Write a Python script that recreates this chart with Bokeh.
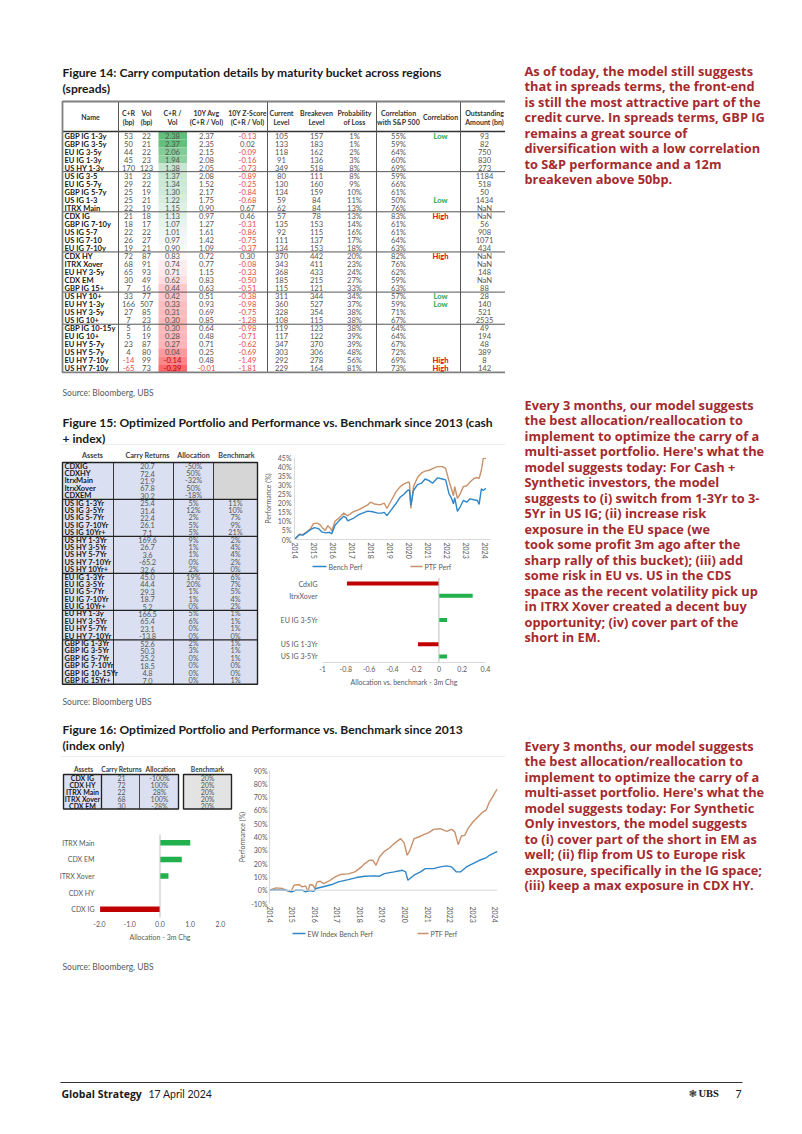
import math
from bokeh.plotting import figure
from bokeh.layouts import row, column
from bokeh.models import (Range1d, FactorRange, Span, FixedTicker,
                          NumeralTickFormatter, PrintfTickFormatter)
from bokeh.core.properties import value
from bokeh.embed import file_html
from bokeh.resources import INLINE

FONT = "Lato"
TFONT = "Open Sans"
RED_TXT = "#A52A2E"
GRAY = "#555555"
BLUE = "#2F86C8"
ORANGE = "#C8916A"

# ---------------- Figure 14 data ----------------
f14_names = ["GBP IG 1-3y", "GBP IG 3-5y", "EU IG 3-5y", "EU IG 1-3y", "US HY 1-3y",
             "US IG 3-5", "EU IG 5-7y", "GBP IG 5-7y", "US IG 1-3", "ITRX Main",
             "CDX IG", "GBP IG 7-10y", "US IG 5-7", "US IG 7-10", "EU IG 7-10y",
             "CDX HY", "ITRX Xover", "EU HY 3-5y", "CDX EM", "GBP IG 15+",
             "US HY 10+", "EU HY 1-3y", "US HY 3-5y", "US IG 10+",
             "GBP IG 10-15y", "EU IG 10+", "EU HY 5-7y", "US HY 5-7y", "EU HY 7-10y", "US HY 7-10y"]
f14_cr = [53, 50, 44, 45, 170, 31, 29, 25, 25, 22, 21, 18, 22, 26, 19, 72, 68, 65, 30, 7,
          33, 166, 27, 7, 5, 5, 23, 4, -14, -65]
f14_vol = [22, 21, 22, 23, 123, 23, 22, 19, 21, 19, 18, 17, 22, 27, 21, 87, 91, 93, 49, 16,
           77, 507, 85, 23, 16, 19, 87, 80, 99, 73]
f14_crvol = [2.38, 2.37, 2.06, 1.94, 1.38, 1.37, 1.34, 1.30, 1.22, 1.15, 1.13, 1.07, 1.01, 0.97, 0.90,
             0.83, 0.74, 0.71, 0.62, 0.44, 0.42, 0.33, 0.31, 0.30, 0.30, 0.28, 0.27, 0.04, -0.14, -0.39]
f14_avg = [2.37, 2.35, 2.15, 2.08, 2.05, 2.08, 1.52, 2.17, 1.75, 0.90, 0.97, 1.27, 1.61, 1.42, 1.09,
           0.72, 0.77, 1.15, 0.83, 0.63, 0.51, 0.93, 0.69, 0.85, 0.64, 0.48, 0.71, 0.25, 0.48, -0.01]
f14_z = [-0.13, 0.02, -0.09, -0.16, -0.73, -0.89, -0.25, -0.84, -0.68, 0.67, 0.46, -0.31, -0.86, -0.75, -0.37,
         0.30, -0.08, -0.33, -0.50, -0.51, -0.38, -0.98, -0.75, -1.28, -0.98, -0.71, -0.62, -0.69, -1.49, -1.81]
f14_cur = [105, 133, 118, 91, 349, 80, 130, 134, 59, 62, 57, 135, 92, 111, 134, 370, 343, 368, 185, 115,
           311, 360, 328, 108, 119, 117, 347, 303, 292, 229]
f14_be = [157, 183, 162, 136, 518, 111, 160, 159, 84, 84, 78, 153, 115, 137, 153, 442, 411, 433, 215, 121,
          344, 527, 354, 115, 123, 122, 370, 306, 278, 164]
f14_prob = [1, 1, 2, 3, 8, 8, 9, 10, 11, 13, 13, 14, 16, 17, 18, 20, 23, 24, 27, 33,
            34, 37, 38, 38, 38, 39, 39, 48, 56, 81]
f14_corr = [55, 59, 64, 60, 69, 59, 66, 61, 50, 76, 83, 61, 61, 64, 63, 82, 76, 62, 59, 63,
            57, 59, 71, 67, 64, 64, 67, 72, 69, 73]
f14_corr_lbl = ["Low", "", "", "", "", "", "", "", "Low", "", "High", "", "", "", "", "High", "", "", "", "",
                "Low", "Low", "", "", "", "", "", "", "High", "High"]
f14_out = [93, 82, 750, 830, 273, 1184, 518, 50, 1434, None, None, 56, 908, 1071, 434, None, None, 148, None, 88,
           28, 140, 521, 2535, 49, 194, 48, 389, 8, 142]
f14_groups = [5, 5, 5, 5, 4, 6]
f14_headers = [("Name",), ("C+R", "(bp)"), ("Vol", "(bp)"), ("C+R /", "Vol"), ("10Y Avg", "(C+R / Vol)"),
               ("10Y Z-Score", "(C+R / Vol)"), ("Current", "Level"), ("Breakeven", "Level"),
               ("Probability", "of Loss"), ("Correlation", "with S&P 500"), ("Correlation",),
               ("Outstanding", "Amount (bn)")]

# ---------------- Figure 15 data ----------------
f15_assets = ["CDXIG", "CDXHY", "ItrxMain", "ItrxXover", "CDXEM",
              "US IG 1-3Yr", "US IG 3-5Yr", "US IG 5-7Yr", "US IG 7-10Yr", "US IG 10Yr+",
              "US HY 1-3Yr", "US HY 3-5Yr", "US HY 5-7Yr", "US HY 7-10Yr", "US HY 10Yr+",
              "EU IG 1-3Yr", "EU IG 3-5Yr", "EU IG 5-7Yr", "EU IG 7-10Yr", "EU IG 10Yr+",
              "EU HY 1-3y", "EU HY 3-5Yr", "EU HY 5-7Yr", "EU HY 7-10Yr",
              "GBP IG 1-3Yr", "GBP IG 3-5Yr", "GBP IG 5-7Yr", "GBP IG 7-10Yr", "GBP IG 10-15Yr", "GBP IG 15Yr+"]
f15_carry = [20.7, 72.4, 21.9, 67.8, 30.2, 25.4, 31.4, 22.4, 26.1, 7.1, 169.6, 26.7, 3.6, -65.2, 32.6,
             45.0, 44.4, 29.3, 18.7, 5.2, 166.5, 65.4, 23.1, -13.8, 52.6, 50.3, 25.2, 18.5, 4.8, 7.0]
f15_alloc = [-50, 50, -32, 50, -18, 5, 12, 2, 5, 5, 9, 1, 1, 0, 2, 19, 20, 1, 1, 0, 5, 6, 0, 0,
             2, 3, 0, 0, 0, 0]
f15_bench = [None, None, None, None, None, 11, 10, 7, 9, 21, 2, 4, 4, 2, 0, 6, 7, 5, 4, 2, 1, 1, 1, 0,
             1, 1, 1, 0, 0, 1]
f15_groups = [5, 5, 5, 5, 4, 6]

f15_bench_x = [2014.0, 2014.26, 2014.44, 2014.61, 2014.84, 2015.05, 2015.26, 2015.43, 2015.66, 2015.84, 2015.96,
               2016.13, 2016.36, 2016.59, 2016.71, 2016.80, 2017.06, 2017.41, 2017.85, 2018.11, 2018.37, 2018.58,
               2018.72, 2018.86, 2019.07, 2019.33, 2019.56, 2019.77, 2019.94, 2020.05, 2020.12, 2020.26, 2020.47,
               2020.68, 2020.87, 2021.08, 2021.26, 2021.52, 2021.78, 2021.95, 2022.13, 2022.25, 2022.36, 2022.43,
               2022.57, 2022.71, 2022.88, 2023.06, 2023.23, 2023.44, 2023.62, 2023.71, 2023.83, 2023.93, 2024.07]
f15_bench_y = [0, 2.7, 2.4, 3.6, 5.4, 6.5, 6.0, 4.2, 3.6, 4.0, 3.1,
               7.8, 10.5, 12.7, 12.0, 10.2, 11.4, 13.8, 15.6, 15.2, 14.5, 14.5,
               14.9, 13.1, 16.0, 19.6, 23.2, 25.0, 26.9, 27.2, 18.7, 26.9, 30.1,
               30.9, 33.2, 32.3, 30.9, 33.8, 33.2, 32.7, 25.0, 22.9, 19.6, 22.9,
               15.4, 17.8, 21.4, 20.5, 22.3, 21.8, 21.4, 19.2, 27.8, 26.9, 28.1]
f15_ptf_x = [2014.0, 2014.26, 2014.44, 2014.61, 2014.84, 2015.0, 2015.2, 2015.35, 2015.5, 2015.62, 2015.75,
             2015.9, 2015.96, 2016.13, 2016.36, 2016.59, 2016.8, 2017.06, 2017.41, 2017.85, 2018.0, 2018.2,
             2018.5, 2018.72, 2018.86, 2019.07, 2019.33, 2019.56, 2019.77, 2020.0, 2020.05, 2020.12, 2020.26,
             2020.47, 2020.68, 2020.87, 2021.08, 2021.3, 2021.52, 2021.78, 2021.95, 2022.13, 2022.25, 2022.36,
             2022.43, 2022.57, 2022.71, 2022.88, 2023.06, 2023.23, 2023.44, 2023.62, 2023.71, 2023.83, 2023.93,
             2024.07]
f15_ptf_y = [0, 2.9, 2.7, 4.0, 5.8, 8.7, 9.0, 8.0, 6.0, 5.0, 7.6,
             6.0, 4.5, 10.0, 12.0, 14.5, 13.0, 15.0, 16.5, 19.0, 20.5, 19.5,
             19.0, 20.0, 17.0, 21.0, 26.0, 29.0, 30.5, 31.6, 31.0, 17.0, 29.0,
             34.0, 36.5, 37.5, 38.0, 39.0, 40.0, 40.0, 39.0, 32.0, 28.0, 24.0,
             29.0, 22.5, 25.0, 29.0, 29.5, 31.5, 33.5, 34.0, 33.5, 38.0, 44.5,
             44.5]
f15_years = [2014, 2015, 2016, 2017, 2018, 2019, 2020, 2021, 2022, 2023, 2024]
f15_yticks = [0, 5, 10, 15, 20, 25, 30, 35, 40, 45]
f15_legend = ["Bench Perf", "PTF Perf"]

f15_chg_cats = ["CdxIG", "ItrxXover", " ", "EU IG 3-5Yr", "  ", "US IG 1-3Yr", "US IG 3-5Yr"]
f15_chg_vals = [-0.79, 0.29, 0.0, 0.07, 0.0, -0.18, 0.07]
f15_chg_ticks = [-1, -0.8, -0.6, -0.4, -0.2, 0, 0.2, 0.4]

# ---------------- Figure 16 data ----------------
f16_assets = ["CDX IG", "CDX HY", "ITRX Main", "ITRX Xover", "CDX EM"]
f16_carry = [21, 72, 22, 68, 30]
f16_alloc = [-100, 100, 28, 100, -28]
f16_bench = [20, 20, 20, 20, 20]

f16_chg_cats = ["ITRX Main", "CDX EM", "ITRX Xover", "CDX HY", "CDX IG"]
f16_chg_vals = [1.0, 0.72, 0.28, 0.0, -1.98]
f16_chg_ticks = [-2, -1, 0, 1, 2]

f16_bench_x = [2014.0, 2014.29, 2014.73, 2014.99, 2015.16, 2015.45, 2015.60, 2015.74, 2015.96, 2016.06, 2016.47,
               2016.76, 2017.05, 2017.49, 2017.85, 2018.22, 2018.65, 2018.87, 2019.09, 2019.52, 2019.89, 2020.03,
               2020.13, 2020.40, 2020.69, 2020.90, 2021.27, 2021.56, 2021.85, 2022.07, 2022.28, 2022.46, 2022.72,
               2023.01, 2023.30, 2023.59, 2023.74, 2023.96, 2024.10]
f16_bench_y = [0, 0.25, 0, -1.25, 0, 0, -1.25, -0.25, -0.75, 1.25, 3.0,
               4.25, 6.25, 8.0, 9.5, 10.5, 10.75, 10.5, 12.5, 13.75, 15.0, 13.75,
               7.5, 11.25, 13.75, 16.25, 16.25, 17.5, 18.25, 17.5, 13.75, 13.75, 17.5,
               20.0, 22.5, 24.25, 26.25, 28.0, 29.25]
f16_ptf_x = [2014.0, 2014.29, 2014.58, 2014.80, 2014.94, 2015.09, 2015.31, 2015.45, 2015.60, 2015.70, 2015.79,
             2015.92, 2016.01, 2016.11, 2016.25, 2016.40, 2016.62, 2016.91, 2017.13, 2017.49, 2017.78, 2017.92,
             2018.07, 2018.22, 2018.43, 2018.58, 2018.72, 2018.87, 2019.09, 2019.31, 2019.52, 2019.81, 2019.96,
             2020.10, 2020.22, 2020.40, 2020.61, 2020.83, 2021.05, 2021.27, 2021.56, 2021.85, 2022.07, 2022.21,
             2022.36, 2022.50, 2022.65, 2022.79, 2023.01, 2023.23, 2023.45, 2023.59, 2023.74, 2023.88, 2024.0,
             2024.10]
f16_ptf_y = [0, 1.75, 1.25, -0.5, -1.25, 3.75, 4.25, 2.5, 3.25, -1.25, 4.25,
             3.75, 1.25, 6.25, 6.75, 5.0, 6.75, 10.0, 11.75, 12.25, 13.75, 15.5,
             17.5, 20.0, 22.5, 22.5, 18.75, 25.0, 29.25, 31.75, 35.0, 38.75, 35.75,
             26.25, 30.0, 38.75, 40.0, 41.75, 43.25, 45.75, 46.25, 44.25, 45.75, 43.75,
             34.25, 40.75, 41.25, 46.25, 51.25, 55.0, 58.75, 60.0, 66.25, 70.0, 73.75,
             76.25]
f16_years = [2014, 2015, 2016, 2017, 2018, 2019, 2020, 2021, 2022, 2023, 2024]
f16_yticks = [-10, 0, 10, 20, 30, 40, 50, 60, 70, 80, 90]
f16_legend = ["EW Index Bench Perf", "PTF Perf"]

# ---------------- side texts ----------------
side1 = ["As of today, the model still suggests", "that in spreads terms, the front-end",
         "is still the most attractive part of the", "credit curve. In spreads terms, GBP IG",
         "remains a great source of", "diversification with a low correlation",
         "to S&P performance and a 12m", "breakeven above 50bp."]
side2 = ["Every 3 months, our model suggests", "the best allocation/reallocation to",
         "implement to optimize the carry of a", "multi-asset portfolio. Here's what the",
         "model suggests today: For Cash +", "Synthetic investors, the model",
         "suggests to (i) switch from 1-3Yr to 3-", "5Yr in US IG; (ii) increase risk",
         "exposure in the EU space (we", "took some profit 3m ago after the",
         "sharp rally of this bucket); (iii) add", "some risk in EU vs. US in the CDS",
         "space as the recent volatility pick up", "in ITRX Xover created a decent buy",
         "opportunity; (iv) cover part of the", "short in EM."]
side3 = ["Every 3 months, our model suggests", "the best allocation/reallocation to",
         "implement to optimize the carry of a", "multi-asset portfolio. Here's what the",
         "model suggests today: For Synthetic", "Only investors, the model suggests",
         "to (i) cover part of the short in EM as", "well; (ii) flip from US to Europe risk",
         "exposure, specifically in the IG space;", "(iii) keep a max exposure in CDX HY."]


# ---------------- helpers ----------------
def canvas(x0, x1, y0, y1):
    p = figure(width=x1 - x0, height=y1 - y0, x_range=Range1d(x0, x1), y_range=Range1d(y1, y0),
               output_backend="svg", toolbar_location=None, min_border=0,
               x_axis_location=None, y_axis_location=None)
    p.min_border_left = p.min_border_right = p.min_border_top = p.min_border_bottom = 0
    p.outline_line_color = None
    p.xgrid.visible = False
    p.ygrid.visible = False
    return p


def put(p, xs, ys, texts, size=7.6, color=GRAY, style="normal", align="left", font=FONT):
    p.text(x=xs, y=ys, text=texts, text_font=value(font), text_font_size=f"{size}px",
           text_color=color, text_font_style=style, text_align=align, text_baseline="middle")


def hline(p, y, x0, x1, color="#404040", width=1.0):
    p.segment(x0=[x0], y0=[y], x1=[x1], y1=[y], line_color=color, line_width=width)


def vline(p, x, y0, y1, color="#404040", width=1.0):
    p.segment(x0=[x], y0=[y0], x1=[x], y1=[y1], line_color=color, line_width=width)


def excel3(v, vmin, vmid, vmax):
    red = (248, 105, 107); white = (252, 252, 255); green = (99, 190, 123)
    if v >= vmid:
        t = (v - vmid) / (vmax - vmid); c1 = green
    else:
        t = (vmid - v) / (vmid - vmin); c1 = red
    return "#%02x%02x%02x" % tuple(int(round(a + (b - a) * t)) for a, b in zip(white, c1))


def style_axis(ax, size=7):
    ax.major_label_text_font = FONT
    ax.major_label_text_font_size = f"{size}px"
    ax.major_label_text_color = "#595959"
    ax.axis_label_text_font = FONT
    ax.axis_label_text_font_size = f"{size}px"
    ax.axis_label_text_font_style = "normal"
    ax.axis_label_text_color = "#595959"
    ax.major_tick_line_color = None
    ax.minor_tick_line_color = None
    ax.major_tick_out = 0
    ax.major_tick_in = 0
    ax.axis_line_color = "#D9D9D9"
    ax.major_label_standoff = 3
    ax.axis_label_standoff = 3


def chart(w, h, xr, yr, l, r, t, b):
    p = figure(width=w, height=h, x_range=xr, y_range=yr, output_backend="svg", toolbar_location=None,
               min_border_left=l, min_border_right=r, min_border_top=t, min_border_bottom=b)
    p.outline_line_color = None
    p.xgrid.visible = False
    p.ygrid.visible = False
    for ax in p.xaxis + p.yaxis:
        style_axis(ax)
    return p


def legend_canvas(x0, x1, y0, y1, yc, keys, labels):
    p = canvas(x0, x1, y0, y1)
    for (kx0, kx1, col), lab in zip(keys, labels):
        hline(p, yc, kx0, kx1, color=col, width=1.6)
        put(p, [kx1 + 2], [yc], [lab], size=7, color="#595959")
    return p


def stack(*plots):
    # wrap every plot in its own row so that the column does not align their frames
    return column(*[row(p, spacing=0) for p in plots], spacing=0)


TITLE_SIZE = 12.1

# ================= L1 : Figure 14 =================
L1 = canvas(0, 505, 0, 445)
put(L1, [62, 62], [72, 88], ["Figure 14: Carry computation details by maturity bucket across regions", "(spreads)"],
    size=TITLE_SIZE, color="#1a1a1a", style="bold")

TX0, TX1, TTOP, THB = 62, 510, 101, 131
ROW_H = 8.03
ry = [THB + ROW_H * (i + 0.5) for i in range(len(f14_names))]
tbot = THB + ROW_H * len(f14_names)

sv = sorted(f14_crvol)
mid = (sv[len(sv) // 2 - 1] + sv[len(sv) // 2]) / 2
cols = [excel3(v, min(f14_crvol), mid, max(f14_crvol)) for v in f14_crvol]
L1.quad(left=[158] * len(ry), right=[186.5] * len(ry), top=[y - ROW_H / 2 for y in ry],
        bottom=[y + ROW_H / 2 for y in ry], fill_color=cols, line_color=None)

cx = [90, 128, 146, 172, 206, 247, 281, 316, 354, 398, 440, 484]
for x, hd in zip(cx, f14_headers):
    if len(hd) == 1:
        put(L1, [x], [116.5], [hd[0]], size=7, color="#333333", style="bold", align="center")
    else:
        put(L1, [x, x], [112, 121], list(hd), size=7, color="#333333", style="bold", align="center")

NEG = "#E8474C"
put(L1, [64] * len(ry), ry, f14_names, color="#1a1a1a", style="bold")
put(L1, [cx[1]] * len(ry), ry, [str(v) for v in f14_cr], color=[NEG if v < 0 else GRAY for v in f14_cr], align="center")
put(L1, [cx[2]] * len(ry), ry, [str(v) for v in f14_vol], align="center")
put(L1, [cx[3]] * len(ry), ry, [f"{v:.2f}" for v in f14_crvol],
    color=["#C00000" if v < 0 else GRAY for v in f14_crvol], align="center")
put(L1, [cx[4]] * len(ry), ry, [f"{v:.2f}" for v in f14_avg], color=[NEG if v < 0 else GRAY for v in f14_avg], align="center")
put(L1, [cx[5]] * len(ry), ry, [f"{v:.2f}" for v in f14_z], color=[NEG if v < 0 else GRAY for v in f14_z], align="center")
put(L1, [cx[6]] * len(ry), ry, [str(v) for v in f14_cur], align="center")
put(L1, [cx[7]] * len(ry), ry, [str(v) for v in f14_be], align="center")
put(L1, [cx[8]] * len(ry), ry, [f"{v}%" for v in f14_prob], align="center")
put(L1, [cx[9]] * len(ry), ry, [f"{v}%" for v in f14_corr], align="center")
put(L1, [cx[10]] * len(ry), ry, f14_corr_lbl, style="bold",
    color=["#1DA750" if s == "Low" else "#E60000" for s in f14_corr_lbl], align="center")
put(L1, [cx[11]] * len(ry), ry, ["NaN" if v is None else str(v) for v in f14_out], align="center")

acc = 0
for g in f14_groups[:-1]:
    acc += g
    hline(L1, THB + ROW_H * acc, TX0, TX1, color="#555555", width=1)
hline(L1, THB, TX0, TX1, color="#333333", width=1.6)
for x in [118, 267, 376, 460]:
    vline(L1, x, TTOP, tbot, color="#555555", width=1)
L1.quad(left=[TX0], right=[TX1], top=[TTOP], bottom=[tbot], fill_color=None, line_color="#808080", line_width=1.8)

put(L1, [62], [392], ["Source: Bloomberg, UBS"], size=8.5, color="#595959")
put(L1, [62, 62], [422, 438], ["Figure 15: Optimized Portfolio and Performance vs. Benchmark since 2013 (cash",
                               "+ index)"], size=TITLE_SIZE, color="#1a1a1a", style="bold")
hline(L1, 444.5, 60, 505, color="#D9D9D9", width=1)

# ================= Figure 15 table =================
T15 = canvas(0, 260, 445, 690)
R15 = 7.39
t15top = 462
ry15 = [t15top + R15 * (i + 0.5) for i in range(len(f15_assets))]
t15bot = t15top + R15 * len(f15_assets)
T15.quad(left=[62], right=[257], top=[t15top], bottom=[t15bot], fill_color="#DAE0F2", line_color=None)
T15.quad(left=[213], right=[257], top=[t15top], bottom=[t15top + R15 * f15_groups[0]], fill_color="#D6D6D6", line_color=None)
put(T15, [92, 147, 193, 236], [455] * 4, ["Assets", "Carry Returns", "Allocation", "Benchmark"],
    size=7.2, color="#404040", style="bold", align="center")
put(T15, [64] * len(ry15), ry15, f15_assets, size=7.5, color="#1a1a1a", style="bold")
put(T15, [147] * len(ry15), ry15, [f"{v:.1f}" for v in f15_carry], size=7.3, align="center")
put(T15, [193] * len(ry15), ry15, [f"{v}%" for v in f15_alloc], size=7.3, align="center")
put(T15, [235] * len(ry15), ry15, ["" if v is None else f"{v}%" for v in f15_bench], size=7.3, align="center")
acc = 0
for g in f15_groups[:-1]:
    acc += g
    hline(T15, t15top + R15 * acc, 62, 257, color="#222222", width=1.3)
for x in [113, 173, 213]:
    vline(T15, x, t15top, t15bot, color="#222222", width=0.9)
T15.quad(left=[62], right=[257], top=[t15top], bottom=[t15bot], fill_color=None, line_color="#222222", line_width=1.4)

# ================= Figure 15 line chart =================
P15 = chart(245, 118, Range1d(2014, 2024.31), Range1d(0, 45), 33, 15, 12, 24)
P15.line(f15_ptf_x, f15_ptf_y, line_color=ORANGE, line_width=1.4)
P15.line(f15_bench_x, f15_bench_y, line_color=BLUE, line_width=1.4)
P15.xaxis.ticker = FixedTicker(ticks=f15_years)
P15.xaxis.major_label_orientation = -math.pi / 2
P15.yaxis.ticker = FixedTicker(ticks=f15_yticks)
P15.yaxis.formatter = PrintfTickFormatter(format="%d%%")
P15.yaxis.axis_label = "Performance (%)"
LG15 = legend_canvas(260, 505, 563, 577, 566, [(312, 326, BLUE), (410, 422, ORANGE)], f15_legend)

# ================= Figure 15 bar chart =================
B15 = chart(245, 113, Range1d(-1, 0.4), FactorRange(factors=f15_chg_cats[::-1]), 62, 20, 0, 28)
B15.hbar(y=f15_chg_cats, left=0, right=f15_chg_vals, height=0.33,
         fill_color=["#C00000" if v < 0 else "#21B04B" for v in f15_chg_vals], line_color=None)
B15.add_layout(Span(location=0, dimension="height", line_color="#BFBFBF", line_width=1))
B15.xaxis.ticker = FixedTicker(ticks=f15_chg_ticks)
B15.xaxis.formatter = NumeralTickFormatter(format="0.[0]")
B15.xaxis.axis_label = "Allocation vs. benchmark - 3m Chg"
B15.yaxis.axis_line_color = None
B15.yaxis.major_label_standoff = 5

# ================= L3 =================
L3 = canvas(0, 505, 690, 757)
put(L3, [62], [701], ["Source: Bloomberg UBS"], size=8.5, color="#595959")
put(L3, [62, 62], [729, 745], ["Figure 16: Optimized Portfolio and Performance vs. Benchmark since 2013",
                               "(index only)"], size=TITLE_SIZE, color="#1a1a1a", style="bold")
hline(L3, 756.5, 60, 505, color="#D9D9D9", width=1)

# ================= Figure 16 table =================
T16 = canvas(0, 235, 757, 830)
R16 = 6.9
t16top = 774
ry16 = [t16top + R16 * (i + 0.5) for i in range(len(f16_assets))]
t16bot = t16top + R16 * len(f16_assets)
T16.quad(left=[63], right=[178], top=[t16top], bottom=[t16bot], fill_color="#DAE0F2", line_color=None)
T16.quad(left=[183], right=[231], top=[t16top], bottom=[t16bot], fill_color="#E3E3E3", line_color=None)
put(T16, [83, 121, 160, 207], [768] * 4, ["Assets", "Carry Returns", "Allocation", "Benchmark"],
    size=6.6, color="#404040", style="bold", align="center")
put(T16, [82] * 5, ry16, f16_assets, size=7, color="#1a1a1a", style="bold", align="center")
put(T16, [121] * 5, ry16, [str(v) for v in f16_carry], size=7, align="center")
put(T16, [159] * 5, ry16, [f"{v}%" for v in f16_alloc], size=7, align="center")
put(T16, [207] * 5, ry16, [f"{v}%" for v in f16_bench], size=7, align="center")
vline(T16, 101, t16top, t16bot, color="#222222", width=1.3)
vline(T16, 139, t16top, t16bot, color="#222222", width=0.8)
T16.quad(left=[63, 183], right=[178, 231], top=[t16top] * 2, bottom=[t16bot] * 2, fill_color=None,
         line_color="#222222", line_width=1.4)

# ================= Figure 16 bar chart =================
B16 = chart(235, 115, Range1d(-2, 2), FactorRange(factors=f16_chg_cats[::-1]), 99, 15, 4, 28)
B16.hbar(y=f16_chg_cats, left=0, right=f16_chg_vals, height=0.33,
         fill_color=["#C00000" if v < 0 else "#21B04B" for v in f16_chg_vals], line_color=None)
B16.add_layout(Span(location=0, dimension="height", line_color="#BFBFBF", line_width=1))
B16.xaxis.ticker = FixedTicker(ticks=f16_chg_ticks)
B16.xaxis.formatter = NumeralTickFormatter(format="0.0")
B16.xaxis.axis_label = "Allocation - 3m Chg"
B16.xaxis.axis_line_color = None
B16.yaxis.axis_line_color = None
B16.yaxis.major_label_standoff = 5

# ================= Figure 16 line chart =================
P16 = chart(270, 168, Range1d(2014, 2024.1), Range1d(-10, 90), 30, 8, 13, 22)
P16.add_layout(Span(location=0, dimension="width", line_color="#D9D9D9", line_width=1))
P16.line(f16_ptf_x, f16_ptf_y, line_color=ORANGE, line_width=1.4)
P16.line(f16_bench_x, f16_bench_y, line_color=BLUE, line_width=1.4)
P16.xaxis.ticker = FixedTicker(ticks=f16_years)
P16.xaxis.major_label_orientation = -math.pi / 2
P16.xaxis.axis_line_color = None
P16.yaxis.ticker = FixedTicker(ticks=f16_yticks)
P16.yaxis.formatter = PrintfTickFormatter(format="%d%%")
P16.yaxis.axis_label = "Performance (%)"
P16.yaxis.major_label_standoff = 2
P16.yaxis.axis_label_standoff = 2
LG16 = legend_canvas(235, 505, 925, 945, 933, [(292, 305, BLUE), (417, 428, ORANGE)], f16_legend)

# ================= right side text =================
R = canvas(505, 795, 0, 945)
LH = 15.5
put(R, [524] * len(side1), [70 + LH * i for i in range(len(side1))], side1, size=12.8, color=RED_TXT,
    style="bold", font=TFONT)
put(R, [524] * len(side2), [404 + LH * i for i in range(len(side2))], side2, size=12.8, color=RED_TXT,
    style="bold", font=TFONT)
put(R, [524] * len(side3), [745 + LH * i for i in range(len(side3))], side3, size=12.8, color=RED_TXT,
    style="bold", font=TFONT)

# ================= bottom =================
B = canvas(0, 795, 945, 1125)
put(B, [62], [966], ["Source: Bloomberg, UBS"], size=8.5, color="#595959")
hline(B, 1082, 60, 742, color="#333333", width=1)
put(B, [61], [1093], ["Global Strategy"], size=10.5, color="#1a1a1a", style="bold", font=TFONT)
put(B, [148], [1093], ["17 April 2024"], size=10.5, color="#1a1a1a")
put(B, [688], [1093], ["\u2743"], size=10, color="#333333", font="DejaVu Sans")
put(B, [698], [1093], ["UBS"], size=10.5, color="#1a1a1a", style="bold", font="Liberation Serif")
put(B, [741], [1093], ["7"], size=10.5, color="#1a1a1a", align="right")

left = column(row(L1, spacing=0),
              row(T15, stack(P15, LG15, B15), spacing=0),
              row(L3, spacing=0),
              row(stack(T16, B16), stack(P16, LG16), spacing=0),
              spacing=0)
page = column(row(left, R, spacing=0), row(B, spacing=0), spacing=0)

open("out.html", "w").write(file_html(page, INLINE))
